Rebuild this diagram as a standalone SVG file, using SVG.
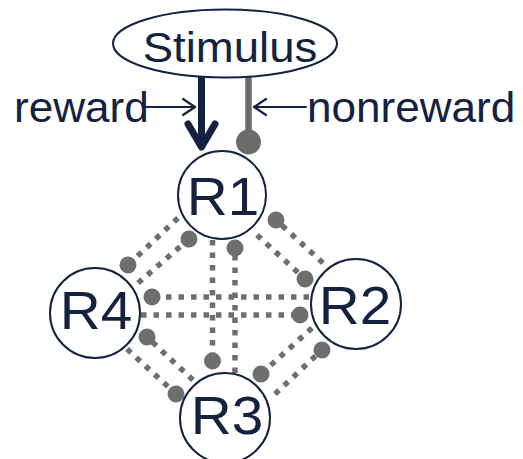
<svg xmlns="http://www.w3.org/2000/svg" width="523" height="459" viewBox="0 0 523 459">
<style>
.t{font-family:"Liberation Sans",Arial,sans-serif;fill:#14213f}
.node{fill:#fff;stroke:#14213f;stroke-width:2}
.dot{fill:none;stroke:#6e6e6e;stroke-width:5.5;stroke-dasharray:5.5 7;marker-end:url(#ball)}
.thin{fill:none;stroke:#14213f;stroke-width:2.2;stroke-linecap:round;stroke-linejoin:round}
</style>
<defs>
<marker id="ball" markerUnits="userSpaceOnUse" markerWidth="20" markerHeight="20" refX="10" refY="10" orient="auto">
<circle cx="10" cy="10" r="8.5" fill="#6e6e6e"/>
</marker>
</defs>
<rect width="523" height="459" fill="#fff"/>
<g id="connectors">
<line class="dot" x1="178" y1="218" x2="128" y2="265"/>
<line class="dot" x1="138" y1="283" x2="189" y2="239"/>
<line class="dot" x1="212.5" y1="240" x2="212.5" y2="361"/>
<line class="dot" x1="235" y1="373" x2="235" y2="248"/>
<line class="dot" x1="309" y1="297" x2="152" y2="297"/>
<line class="dot" x1="141" y1="315" x2="300" y2="315"/>
<line class="dot" x1="323" y1="263" x2="276" y2="220"/>
<line class="dot" x1="257" y1="235" x2="305" y2="279"/>
<line class="dot" x1="275" y1="394" x2="322" y2="350"/>
<line class="dot" x1="312" y1="328" x2="261" y2="374"/>
<line class="dot" x1="127" y1="349" x2="176" y2="394"/>
<line class="dot" x1="193" y1="380" x2="147" y2="337"/>
<line x1="201.5" y1="77" x2="201.5" y2="146" stroke="#14213f" stroke-width="7"/>
<polyline points="188,124 201.5,147 215,124" fill="none" stroke="#14213f" stroke-width="7" stroke-linecap="round" stroke-linejoin="round"/>
<line x1="248.5" y1="77" x2="248.5" y2="142" stroke="#6b6b6b" stroke-width="6.5"/>
<circle cx="248.5" cy="142" r="12.5" fill="#6b6b6b"/>
<line class="thin" x1="145" y1="107" x2="195" y2="107"/>
<polyline class="thin" points="183,99 195,107 183,115"/>
<line class="thin" x1="306" y1="107" x2="254" y2="107"/>
<polyline class="thin" points="266,99 254,107 266,115"/>
</g>
<g id="stimulus">
<ellipse class="node" cx="225" cy="43.5" rx="112" ry="34"/>
<text class="t" font-size="43" text-anchor="middle" transform="translate(230,62) scale(1.06,1)">Stimulus</text>
</g>
<g id="label-reward">
<text class="t" font-size="42" transform="translate(14,122) scale(1.05,1)">reward</text>
</g>
<g id="label-nonreward">
<text class="t" font-size="42" transform="translate(307,122) scale(1.05,1)">nonreward</text>
</g>
<g id="R1">
<circle class="node" cx="222" cy="195" r="44"/>
<text class="t" font-size="54" text-anchor="middle" transform="translate(223,215) scale(1.05,1)">R1</text>
</g>
<g id="R2">
<circle class="node" cx="356" cy="304" r="45"/>
<text class="t" font-size="54" text-anchor="middle" transform="translate(355,324) scale(1.05,1)">R2</text>
</g>
<g id="R3">
<circle class="node" cx="225" cy="418" r="45"/>
<text class="t" font-size="54" text-anchor="middle" transform="translate(227,434) scale(1.05,1)">R3</text>
</g>
<g id="R4">
<circle class="node" cx="95" cy="313" r="45"/>
<text class="t" font-size="54" text-anchor="middle" transform="translate(96,329) scale(1.05,1)">R4</text>
</g>
</svg>
